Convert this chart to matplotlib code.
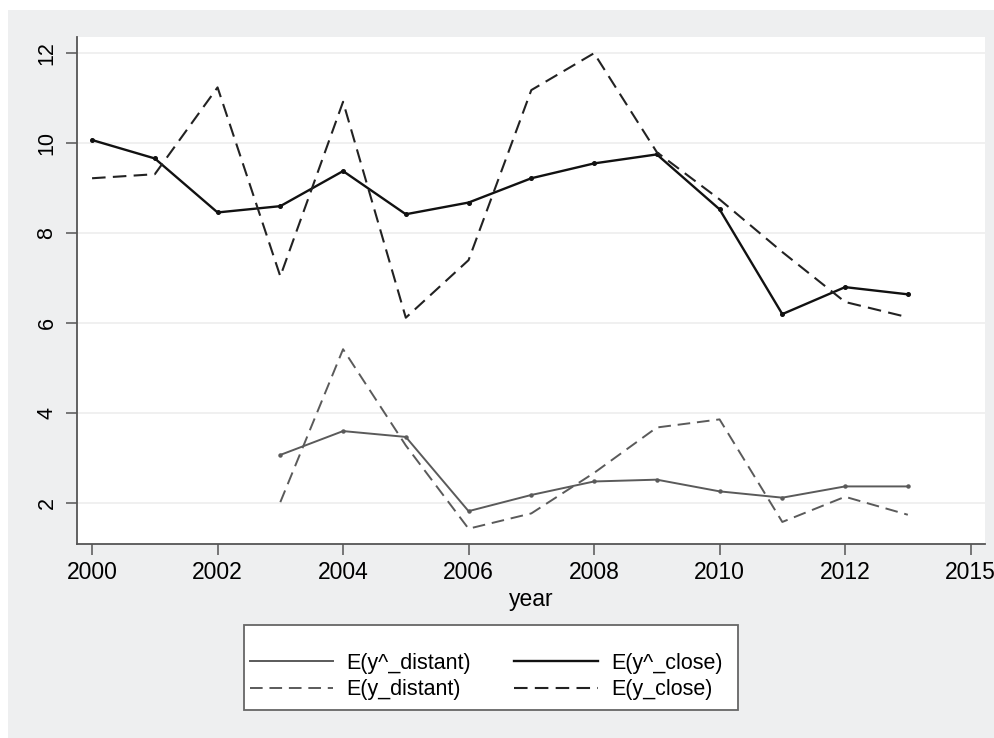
import numpy as np
import matplotlib
matplotlib.use("Agg")
import matplotlib.pyplot as plt
from matplotlib.patches import Rectangle

plt.rcParams['font.family'] = ['Liberation Sans', 'DejaVu Sans']

years = list(range(2000, 2014))
yhat_close = [10.07, 9.66, 8.46, 8.60, 9.38, 8.42, 8.68, 9.22, 9.55, 9.75, 8.53, 6.20, 6.80, 6.64]
y_close = [9.22, 9.31, 11.24, 7.04, 10.92, 6.12, 7.40, 11.18, 12.00, 9.80, 8.75, 7.58, 6.47, 6.13]
yhat_distant = [np.nan, np.nan, np.nan, 3.07, 3.60, 3.47, 1.82, 2.18, 2.48, 2.52, 2.26, 2.12, 2.37, 2.37]
y_distant = [np.nan, np.nan, np.nan, 2.02, 5.42, 3.28, 1.43, 1.77, 2.67, 3.68, 3.86, 1.58, 2.14, 1.74]
xtick_labels = ['2000', '2002', '2004', '2006', '2008', '2010', '2012', '2015']
ytick_labels = ['2', '4', '6', '8', '10', '12']
labels = ['E(y^_distant)', 'E(y_distant)', 'E(y^_close)', 'E(y_close)']

W, H = 995, 738
fig = plt.figure(figsize=(W / 100, H / 100), dpi=100)
fig.patch.set_facecolor('white')
fig.patches.append(Rectangle((8 / W, 0), 1, 1 - 10 / H, transform=fig.transFigure,
                             facecolor='#eeeff0', edgecolor='none', zorder=-5))
# legend frame
fig.patches.append(Rectangle((244 / W, 1 - 710 / H), (738 - 244) / W, (710 - 625) / H,
                             transform=fig.transFigure, facecolor='white',
                             edgecolor='#666666', lw=1.3, zorder=-4))

ax = fig.add_axes([77 / W, 1 - 544 / H, (985 - 77) / W, (544 - 37) / H])
ax.set_facecolor('white')

gray = '#5a5a5a'
l1, = ax.plot(years, yhat_distant, color=gray, lw=1.4, marker='o', ms=2.2, zorder=3)
l2, = ax.plot(years, y_distant, color=gray, lw=1.4, dashes=(6.5, 3.5), zorder=3)
l3, = ax.plot(years, yhat_close, color='#111111', lw=1.7, marker='o', ms=2.6, zorder=4)
l4, = ax.plot(years, y_close, color='#222222', lw=1.5, dashes=(6.5, 3.5), zorder=4)

ax.set_xlim(1999.76, 2014.23)
ax.set_ylim(1.09, 12.36)
yt = [float(v) for v in ytick_labels]
ax.set_yticks(yt)
ax.set_yticklabels(ytick_labels, rotation=90, va='center', fontsize=15.5)
xt = np.arange(2000, 2000 + 2 * len(xtick_labels), 2)
ax.set_xticks(xt)
ax.set_xticklabels(xtick_labels, fontsize=16.5)
ax.grid(axis='y', color='#efefef', lw=1.3, zorder=0)
ax.set_axisbelow(True)
for s in ['top', 'right']:
    ax.spines[s].set_visible(False)
for s in ['left', 'bottom']:
    ax.spines[s].set_color('#555555')
    ax.spines[s].set_linewidth(1.3)
ax.tick_params(axis='both', length=8, width=1.1, color='#555555', direction='out')
ax.tick_params(axis='x', pad=4)
ax.tick_params(axis='y', pad=6)
ax.set_xlabel('year', fontsize=16.5, labelpad=3)

leg = fig.legend([l1, l2, l3, l4], labels, ncol=2, loc='center',
                 bbox_to_anchor=(486 / W, 1 - 676.5 / H),
                 fontsize=15.5, frameon=False, handlelength=3.9,
                 columnspacing=2.0, handletextpad=0.6, labelspacing=0.25,
                 borderpad=0.0)
for h in leg.legend_handles:
    h.set_marker('')

fig.savefig('out.png', dpi=100, facecolor=fig.get_facecolor())
